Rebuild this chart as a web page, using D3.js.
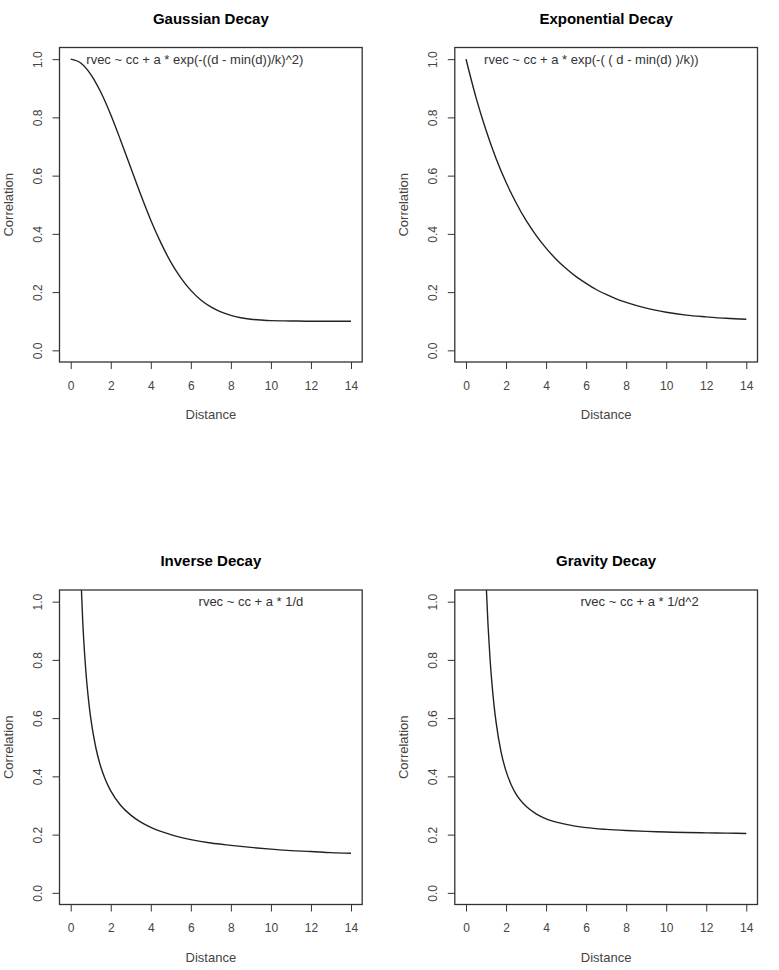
<!DOCTYPE html>
<html>
<head>
<meta charset="utf-8">
<script src="https://cdn.jsdelivr.net/npm/d3@7"></script>
<style>
	body { margin: 0; background: #fff; }
	svg { display: block; font-family: 'Liberation Sans', Arial, Helvetica, sans-serif; }
</style>
</head>
<body>
<svg></svg>
<script>
// four fitted decay curves
let titles = ['Gaussian Decay', 'Exponential Decay', 'Inverse Decay', 'Gravity Decay']
let formulas = [
	'rvec ~ cc + a * exp(-((d - min(d))/k)^2)',
	'rvec ~ cc + a * exp(-( ( d - min(d) )/k))',
	'rvec ~ cc + a * 1/d',
	'rvec ~ cc + a * 1/d^2'
]
let distTicks = [0, 2, 4, 6, 8, 10, 12, 14]
let corrTicks = [0, 0.2, 0.4, 0.6, 0.8, 1.0]

let gaussDist = [0, 0.5, 1, 1.5, 2, 2.5, 3, 3.5, 4, 4.5, 5, 5.5, 6, 6.5, 7, 7.5, 8, 8.5, 9, 9.5, 10, 11, 12, 13, 14]
let gaussCorr = [1.000, 0.987, 0.948, 0.887, 0.809, 0.720, 0.627, 0.534, 0.447, 0.370, 0.303, 0.249, 0.206, 0.173, 0.149, 0.132, 0.120, 0.112, 0.107, 0.104, 0.102, 0.101, 0.100, 0.100, 0.100]

let expoDist = [0, 0.5, 1, 1.5, 2, 2.5, 3, 3.5, 4, 4.5, 5, 5.5, 6, 6.5, 7, 7.5, 8, 9, 10, 11, 12, 13, 14]
let expoCorr = [1.000, 0.868, 0.756, 0.659, 0.577, 0.507, 0.446, 0.395, 0.351, 0.313, 0.281, 0.253, 0.230, 0.209, 0.192, 0.177, 0.165, 0.145, 0.131, 0.121, 0.115, 0.110, 0.107]

let invDist = [0.45, 0.5, 0.6, 0.7, 0.8, 0.9, 1, 1.25, 1.5, 1.75, 2, 2.5, 3, 3.5, 4, 5, 6, 7, 8, 9, 10, 11, 12, 13, 14]
let invCorr = [1.211, 1.100, 0.933, 0.814, 0.725, 0.656, 0.600, 0.500, 0.433, 0.386, 0.350, 0.300, 0.267, 0.243, 0.225, 0.200, 0.183, 0.171, 0.163, 0.156, 0.150, 0.145, 0.142, 0.138, 0.136]

let gravDist = [0.9, 1, 1.1, 1.2, 1.3, 1.4, 1.5, 1.75, 2, 2.25, 2.5, 3, 3.5, 4, 5, 6, 7, 8, 9, 10, 11, 12, 13, 14]
let gravCorr = [1.274, 1.070, 0.919, 0.804, 0.715, 0.644, 0.587, 0.484, 0.418, 0.372, 0.339, 0.297, 0.271, 0.254, 0.235, 0.224, 0.218, 0.214, 0.211, 0.209, 0.207, 0.206, 0.205, 0.204]

let panels = [
	{ dist: gaussDist, corr: gaussCorr },
	{ dist: expoDist, corr: expoCorr },
	{ dist: invDist, corr: invCorr },
	{ dist: gravDist, corr: gravCorr }
].map((p, i) => ({ ...p, title: titles[i], formula: formulas[i] }))

// plot region of each panel (R style box, 4% axis padding)
let colX = [59.5, 454.8]
let rowY = [47.5, 590]
let pw = 302.7
let ph = 314.5

let x = d3.scaleLinear().domain([-0.56, 14.56]).range([0, pw])
let y = d3.scaleLinear().domain([-0.04, 1.04]).range([ph, 0])

let line = d3.line()
	.x((d, i, ds) => x(d[0]))
	.y(d => y(d[1]))
	.curve(d3.curveMonotoneX)

let svg = d3.select('svg')
	.attr('width', 779)
	.attr('height', 970)

let g = svg.selectAll('g.panel')
	.data(panels).enter()
	.append('g').attr('class', 'panel')
	.attr('transform', (d, i) => `translate(${colX[i % 2]}, ${rowY[Math.floor(i / 2)]})`)

g.append('clipPath')
	.attr('id', (d, i) => `clip${i}`)
	.append('rect')
	.attr('width', pw)
	.attr('height', ph)

// x axis
g.append('g')
	.attr('transform', `translate(0, ${ph})`)
	.call(d3.axisBottom(x).tickValues(distTicks).tickSize(7).tickSizeOuter(0).tickPadding(12))
	.call(a => a.select('.domain').remove())
	.call(a => a.selectAll('line').attr('stroke', '#333'))
	.call(a => a.selectAll('text').attr('font-size', 12).attr('fill', '#444').attr('font-family', null))

// y axis, labels rotated like R's las = 0
g.append('g')
	.call(d3.axisLeft(y).tickValues(corrTicks).tickSize(7).tickSizeOuter(0).tickFormat(d3.format('.1f')))
	.call(a => a.select('.domain').remove())
	.call(a => a.selectAll('line').attr('stroke', '#333'))
	.call(a => a.selectAll('text')
		.attr('x', null).attr('dy', null)
		.attr('transform', 'translate(-17.5, 0) rotate(-90)')
		.attr('text-anchor', 'middle')
		.attr('font-size', 12).attr('fill', '#444').attr('font-family', null))

g.append('path')
	.attr('clip-path', (d, i) => `url(#clip${i})`)
	.attr('d', d => line(d3.zip(d.dist, d.corr)))
	.attr('fill', 'none')
	.attr('stroke', '#222')
	.attr('stroke-width', 1.4)

g.append('rect')
	.attr('width', pw)
	.attr('height', ph)
	.attr('fill', 'none')
	.attr('stroke', '#333')
	.attr('stroke-width', 1.3)

g.append('text')
	.attr('x', x(11.62))
	.attr('y', y(1))
	.attr('dy', '0.35em')
	.attr('text-anchor', 'end')
	.attr('font-size', 13)
	.attr('fill', '#333')
	.text(d => d.formula)

g.append('text')
	.attr('x', pw / 2)
	.attr('y', -24)
	.attr('text-anchor', 'middle')
	.attr('font-size', 15)
	.attr('font-weight', 'bold')
	.attr('fill', '#000')
	.text(d => d.title)

g.append('text')
	.attr('x', pw / 2)
	.attr('y', ph + 57)
	.attr('text-anchor', 'middle')
	.attr('font-size', 13)
	.attr('fill', '#444')
	.text('Distance')

g.append('text')
	.attr('transform', `translate(-47, ${ph / 2}) rotate(-90)`)
	.attr('text-anchor', 'middle')
	.attr('font-size', 13)
	.attr('fill', '#444')
	.text('Correlation')
</script>
</body>
</html>
